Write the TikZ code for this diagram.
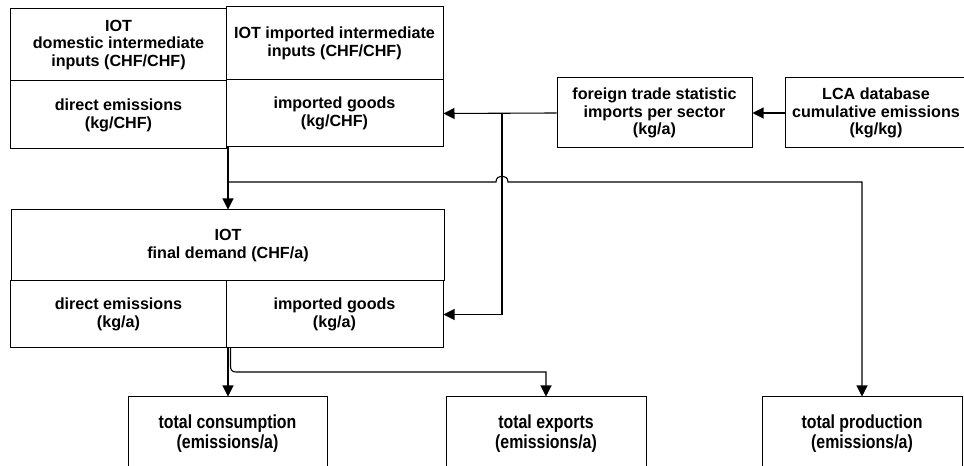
\documentclass[tikz,border=0pt]{standalone}
\usepackage{fontspec}
\setmainfont{Liberation Sans}
\newfontfamily\botfont[FakeStretch=0.84]{Liberation Sans}
\usetikzlibrary{arrows.meta}
\tikzset{
  box/.style={draw=black, line width=1bp, inner sep=0pt, align=center,
    font=\bfseries\fontsize{16.2}{17.8}\selectfont},
  botbox/.style={box, font=\botfont\bfseries\fontsize{19}{20.5}\selectfont},
  conn/.style={draw=black, line width=1.1bp},
  arr/.style={conn, -{Triangle[length=11bp,width=11bp]}}
}
\begin{document}
\begin{tikzpicture}[x=1bp,y=-1bp]
\clip (0,0) rectangle (964,466);
\fill[white] (0,0) rectangle (964,466);
% top row
\node[box, minimum width=215bp, minimum height=72bp] (domint) at (118.5,45) {IOT\\domestic intermediate\\inputs (CHF/CHF)};
\node[box, minimum width=215bp, minimum height=68bp] (diremA) at (118.5,115) {direct emissions\\(kg/CHF)};
\node[box, minimum width=217bp, minimum height=73bp] (impint) at (334.5,43.5) {IOT imported intermediate\\inputs (CHF/CHF)};
\node[box, minimum width=217bp, minimum height=67bp] (impA) at (334.5,113.5) {imported goods\\(kg/CHF)};
\node[box, minimum width=195bp, minimum height=70bp] (ft) at (654.5,113) {foreign trade statistic\\imports per sector\\(kg/a)};
\node[box, minimum width=182bp, minimum height=70bp] (lca) at (876,113) {LCA database\\cumulative emissions\\(kg/kg)};
% middle
\node[box, minimum width=432bp, minimum height=71bp] (fd) at (228,245.5) {IOT\\final demand (CHF/a)};
\node[box, minimum width=215bp, minimum height=67bp] (diremB) at (118.5,314.5) {direct emissions\\(kg/a)};
\node[box, minimum width=217bp, minimum height=67bp] (impB) at (334.5,314.5) {imported goods\\(kg/a)};
% bottom
\node[botbox, minimum width=199bp, minimum height=73bp] (cons) at (227.5,433.5) {total consumption\\(emissions/a)};
\node[botbox, minimum width=200bp, minimum height=73bp] (exp) at (546,433.5) {total exports\\(emissions/a)};
\node[botbox, minimum width=200bp, minimum height=73bp] (prod) at (862,433.5) {total production\\(emissions/a)};
% connectors
\draw[arr] (lca.west) -- (ft.east);
\draw[arr] (ft.west) -- (impA.east);
\coordinate (j1) at (502,113);
\draw[arr] (j1) |- (impB.east);
\coordinate (j2) at (228,147);
\draw[arr] (j2) -- (j2 |- fd.north);
\coordinate (j3) at (228,182);
\draw[arr] (j3) -- (496,182) .. controls (496,174) and (508,174) .. (508,182) -- (prod.north |- j3) -- (prod.north);
\coordinate (j4) at (228,348);
\draw[arr] (j4) -- (j4 |- cons.north);
\coordinate (j5) at (230.5,348);
\draw[arr] (j5) -- (230.5,366) .. controls (230.5,370) and (232,372) .. (236,372) -- (exp.north |- 0,372) -- (exp.north);
\end{tikzpicture}
\end{document}
